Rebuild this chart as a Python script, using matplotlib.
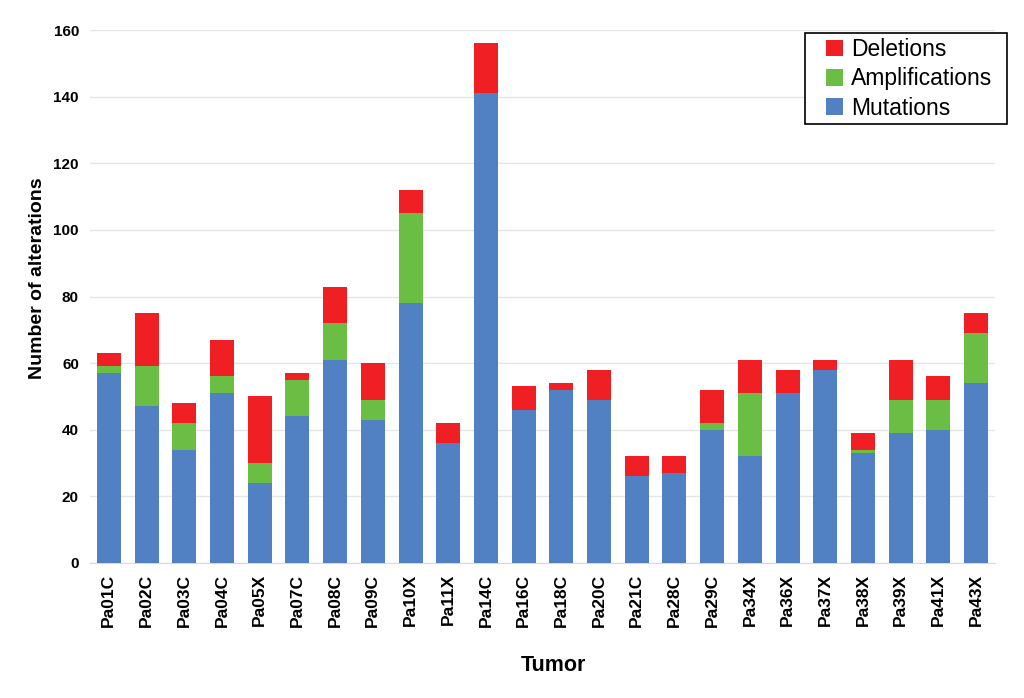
import matplotlib
matplotlib.use("Agg")
import matplotlib.pyplot as plt
from matplotlib.patches import Rectangle
import numpy as np

tumors = ["Pa01C", "Pa02C", "Pa03C", "Pa04C", "Pa05X", "Pa07C", "Pa08C", "Pa09C",
          "Pa10X", "Pa11X", "Pa14C", "Pa16C", "Pa18C", "Pa20C", "Pa21C", "Pa28C",
          "Pa29C", "Pa34X", "Pa36X", "Pa37X", "Pa38X", "Pa39X", "Pa41X", "Pa43X"]
mutations = [57, 47, 34, 51, 24, 44, 61, 43, 78, 36, 141, 46, 52, 49, 26, 27,
             40, 32, 51, 58, 33, 39, 40, 54]
amplifications = [2, 12, 8, 5, 6, 11, 11, 6, 27, 0, 0, 0, 0, 0, 0, 0,
                  2, 19, 0, 0, 1, 10, 9, 15]
deletions = [4, 16, 6, 11, 20, 2, 11, 11, 7, 6, 15, 7, 2, 9, 6, 5,
             10, 10, 7, 3, 5, 12, 7, 6]

plt.rcParams['font.family'] = ['Liberation Sans', 'DejaVu Sans']

W, H = 1024, 698
fig = plt.figure(figsize=(W / 100, H / 100), dpi=100)
ax = fig.add_axes([90 / W, 1 - 563 / H, 905 / W, 533 / H])

x = np.arange(len(tumors))
w = 0.637
blue = "#5181C2"
green = "#6BBE44"
red = "#EF1F24"
m = np.array(mutations)
a = np.array(amplifications)
d = np.array(deletions)
ax.bar(x, m, w, color=blue, label="Mutations", zorder=3)
ax.bar(x, a, w, bottom=m, color=green, label="Amplifications", zorder=3)
ax.bar(x, d, w, bottom=m + a, color=red, label="Deletions", zorder=3)

ax.set_ylim(0, 160)
ax.set_yticks(range(0, 161, 20))
ax.set_xlim(-0.5, 23.5)
ax.set_xticks(x)
ax.set_xticklabels(tumors, rotation=90, fontsize=12.5, fontweight='bold')
for lbl in ax.get_yticklabels():
    lbl.set_fontweight('bold')
    lbl.set_fontsize(11)
ax.grid(axis='y', color='#E6E6E6', linewidth=1, zorder=0)
for s in ['top', 'right', 'left']:
    ax.spines[s].set_visible(False)
ax.spines['bottom'].set_color('#D9D9D9')
ax.tick_params(axis='both', length=0)
ax.tick_params(axis='y', pad=8)
ax.tick_params(axis='x', pad=8)

ax.set_ylabel("Number of alterations", fontsize=14, fontweight='bold')
ax.yaxis.set_label_coords((46 - 90) / 905, 0.535)
ax.set_xlabel("Tumor", fontsize=15.5, fontweight='bold')
ax.xaxis.set_label_coords((553 - 90) / 905, -(655 - 563) / 533)

# legend frame drawn separately for exact padding
fig.add_artist(Rectangle((805 / W, 1 - 124 / H), 202 / W, 91 / H, transform=fig.transFigure,
                         facecolor='white', edgecolor='black', linewidth=1.2, zorder=5))
handles, labels = ax.get_legend_handles_labels()
leg = fig.legend(handles[::-1], labels[::-1], loc='upper left', fontsize=16.5,
                 frameon=False, handlelength=0.75, handleheight=0.75, handletextpad=0.35,
                 borderpad=0, labelspacing=0.28, borderaxespad=0,
                 bbox_to_anchor=(826 / W, 1 - 38 / H))
leg.set_zorder(6)

fig.savefig("out.png", dpi=100)
